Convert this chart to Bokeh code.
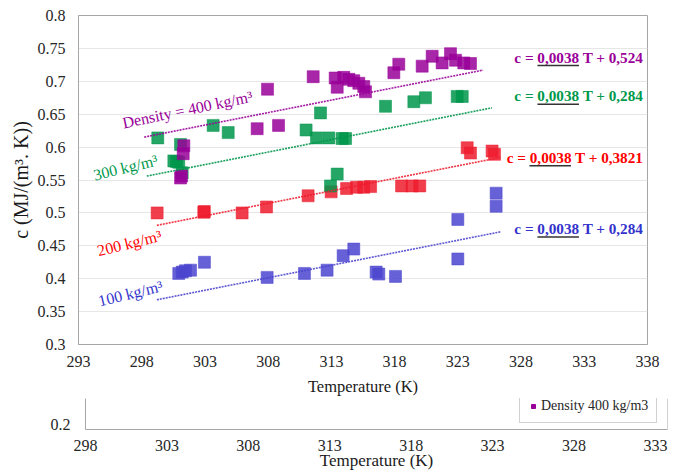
from bokeh.plotting import figure
from bokeh.models import FixedTicker, Legend, LegendItem, Range1d, Span
from bokeh.core.properties import value
from bokeh.embed import file_html
from bokeh.resources import INLINE

# ---------------- data ----------------
x_ticks = [293, 298, 303, 308, 313, 318, 323, 328, 333, 338]
y_ticks = [0.3, 0.35, 0.4, 0.45, 0.5, 0.55, 0.6, 0.65, 0.7, 0.75, 0.8]
y_tick_labels = ["0.3", "0.35", "0.4", "0.45", "0.5", "0.55", "0.6", "0.65", "0.7", "0.75", "0.8"]

t_400 = [301.07, 301.15, 301.28, 301.33, 307.13, 307.95, 308.82, 311.56, 313.30, 313.46,
         313.98, 314.38, 314.77, 315.17, 315.56, 315.70, 317.94, 318.33, 320.18, 320.97,
         321.76, 322.42, 322.82, 323.47, 324.00]
c_400 = [0.553, 0.556, 0.590, 0.602, 0.628, 0.688, 0.633, 0.707, 0.705, 0.691,
         0.706, 0.703, 0.701, 0.697, 0.692, 0.684, 0.713, 0.726, 0.723, 0.738,
         0.728, 0.742, 0.732, 0.728, 0.727]

t_300 = [299.27, 300.54, 300.75, 300.93, 301.07, 301.20, 303.65, 304.84, 311.00, 311.82,
         312.14, 312.80, 313.85, 314.12, 312.93, 313.46, 317.28, 319.52, 320.44, 322.95, 323.35]
c_300 = [0.614, 0.579, 0.578, 0.577, 0.604, 0.561, 0.633, 0.622, 0.626, 0.614,
         0.652, 0.614, 0.613, 0.613, 0.541, 0.559, 0.662, 0.669, 0.675, 0.677, 0.677]

t_200 = [299.22, 302.91, 302.95, 305.94, 307.87, 311.16, 312.98, 314.20, 314.99, 315.56,
         316.10, 318.55, 319.38, 319.99, 323.74, 324.00, 325.71, 325.90]
c_200 = [0.500, 0.501, 0.502, 0.500, 0.509, 0.526, 0.532, 0.537, 0.539, 0.539,
         0.540, 0.541, 0.541, 0.541, 0.599, 0.591, 0.594, 0.589]

t_100 = [300.93, 301.20, 301.46, 301.86, 302.96, 307.92, 310.87, 312.66, 313.93, 314.77,
         316.54, 316.75, 318.07, 323.00, 323.00, 326.03, 326.03]
c_100 = [0.408, 0.410, 0.412, 0.413, 0.425, 0.402, 0.408, 0.413, 0.435, 0.445,
         0.410, 0.407, 0.4035, 0.490, 0.430, 0.530, 0.510]

# trend lines: c = slope * (T - 273.15) + intercept
trend_slope = 0.0038
trend_intercepts = [0.520, 0.460, 0.3821, 0.269]     # 400, 300, 200, 100 kg/m3
trend_t_start = [298.2, 298.4, 299.2, 299.2]
trend_t_end = [325.0, 325.7, 326.4, 326.4]

equation_texts = ["c = 0,0038 T + 0,524", "c = 0,0038 T + 0,284",
                  "c = 0,0038 T + 0,3821", "c = 0,0038 T + 0,284"]
density_texts = ["Density = 400 kg/m\u00b3", "300 kg/m\u00b3", "200 kg/m\u00b3", "100 kg/m\u00b3"]

# second (partially visible) chart
x2_ticks = [298, 303, 308, 313, 318, 323, 328, 333]
x2_range = (298, 333.74)
y2_ticks = [0.2]
y2_tick_labels = ["0.2"]
y2_range = (0.19, 0.254)
legend2_label = "Density 400 kg/m3"

# ---------------- styles ----------------
SERIF = "Liberation Serif"
colors = ["#990099", "#00964B", "#EE1C2E", "#4B45CF"]
text_colors = ["#990099", "#00994C", "#FF0000", "#3333CC"]
AX = "#a6a6a6"


def style_axis(ax):
    ax.major_tick_out = 0
    ax.major_tick_in = 0
    ax.minor_tick_out = 0
    ax.minor_tick_in = 0
    ax.axis_line_color = AX
    ax.major_label_text_font = SERIF
    ax.major_label_text_font_size = "16px"
    ax.major_label_text_color = "#262626"
    ax.axis_label_text_font = SERIF
    ax.axis_label_text_font_style = "normal"
    ax.axis_label_text_color = "#1a1a1a"


p = figure(width=681, height=398, x_range=Range1d(293, 338), y_range=Range1d(0.3, 0.8),
           output_backend="svg", toolbar_location=None,
           min_border_left=78, min_border_right=34, min_border_top=15, min_border_bottom=51)
p.outline_line_color = AX
p.xgrid.visible = False
p.ygrid.ticker = FixedTicker(ticks=y_ticks)
p.ygrid.grid_line_color = "#e6e6e6"

p.xaxis.ticker = FixedTicker(ticks=x_ticks)
p.yaxis.ticker = FixedTicker(ticks=y_ticks)
p.yaxis.major_label_overrides = {v: s for v, s in zip(y_ticks, y_tick_labels)}
style_axis(p.xaxis)
style_axis(p.yaxis)
p.xaxis.major_label_standoff = 11
p.xaxis.axis_label = "Temperature (K)"
p.xaxis.axis_label_text_font_size = "16.5px"
p.xaxis.axis_label_standoff = 7
p.yaxis.major_label_standoff = 13
p.yaxis.axis_label = "c (MJ/(m\u00b3. K))"
p.yaxis.axis_label_text_font_size = "20px"
p.yaxis.axis_label_standoff = 3

series = [(t_400, c_400), (t_300, c_300), (t_200, c_200), (t_100, c_100)]

# markers (blue at bottom, purple on top)
for i in [3, 2, 1, 0]:
    t, c = series[i]
    p.scatter(x=t, y=c, marker="square", size=12, fill_color=colors[i], fill_alpha=0.85,
              line_color=colors[i], line_alpha=0.5, line_width=1)

# trend lines
for i in range(4):
    xs = [trend_t_start[i], trend_t_end[i]]
    ys = [trend_slope * (x - 273.15) + trend_intercepts[i] for x in xs]
    p.line(xs, ys, line_color=colors[i], line_width=1.6, line_dash="2 1", line_alpha=0.9)

# equation labels (annotation placement)
px_per_k = 569 / 45.0
px_per_c = 332 / 0.5
eq_x = 337.68
eq_y = [0.7367, 0.678, 0.5846, 0.4762]
ul_offsets = [(106, 64.5), (106, 64.5), (114, 72.5), (106, 64.5)]
for i in range(4):
    p.text(x=[eq_x], y=[eq_y[i]], text=[equation_texts[i]], text_font=value(SERIF),
           text_font_style="bold", text_font_size="15.2px", text_align="right",
           text_baseline="middle", text_color=text_colors[i])
    o0, o1 = ul_offsets[i]
    yy = eq_y[i] - 8.5 / px_per_c
    p.segment(x0=[eq_x - o0 / px_per_k], y0=[yy], x1=[eq_x - o1 / px_per_k], y1=[yy],
              line_color="#333333", line_width=1.5)

# density labels
dens_pos = [(301.62, 0.657), (296.72, 0.569), (297.03, 0.454), (297.11, 0.3776)]
dens_angle = [0.205, 0.24, 0.24, 0.24]
for i in range(4):
    p.text(x=[dens_pos[i][0]], y=[dens_pos[i][1]], text=[density_texts[i]],
           text_font=value(SERIF), text_font_size="16px", text_align="center",
           text_baseline="middle", text_color=text_colors[i], angle=dens_angle[i])

# ---------------- second (partial) chart ----------------
p2 = figure(width=681, height=74, x_range=Range1d(*x2_range), y_range=Range1d(*y2_range),
            output_backend="svg", toolbar_location=None,
            min_border_left=85, min_border_right=14, min_border_top=0, min_border_bottom=42)
p2.outline_line_color = None
p2.grid.visible = False
p2.xaxis.ticker = FixedTicker(ticks=x2_ticks)
p2.yaxis.ticker = FixedTicker(ticks=y2_ticks)
p2.yaxis.major_label_overrides = {v: s for v, s in zip(y2_ticks, y2_tick_labels)}
style_axis(p2.xaxis)
style_axis(p2.yaxis)
p2.xaxis.major_label_standoff = 10
p2.xaxis.axis_label = "Temperature (K)"
p2.xaxis.axis_label_text_font_size = "17px"
p2.xaxis.axis_label_standoff = -3
p2.yaxis.major_label_standoff = 15
p2.add_layout(Span(location=x2_range[1], dimension="height", line_color=AX, line_width=1))

# the 400 kg/m3 series of the second chart lies above its visible strip; only its legend shows
leg_r = p2.scatter(x=t_400, y=c_400, marker="square", size=10, fill_color=colors[0], line_color=colors[0])
legend = Legend(items=[LegendItem(label=legend2_label, renderers=[leg_r])],
                location=(434, 6), border_line_color=AX, padding=8, margin=0,
                label_text_font=SERIF, label_text_font_size="14px",
                label_text_color="#262626", glyph_width=10, glyph_height=10,
                label_standoff=3, background_fill_alpha=1)
p2.add_layout(legend, "center")

open("out.html", "w").write(file_html([p, p2], INLINE))
